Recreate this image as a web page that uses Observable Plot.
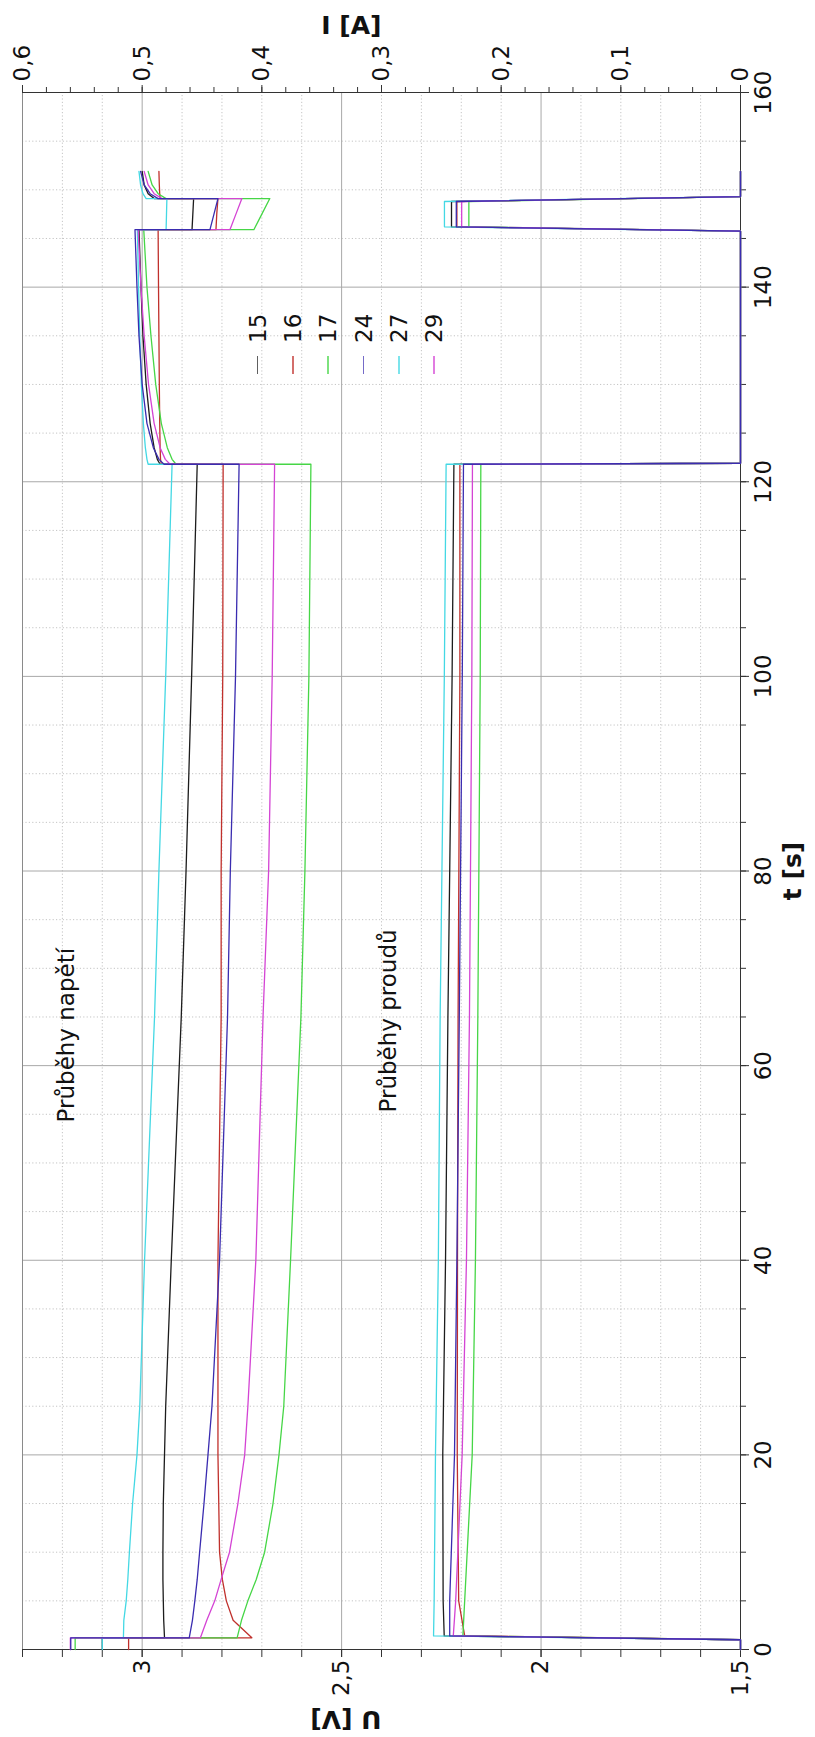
<!DOCTYPE html>
<html>
<head>
<meta charset="utf-8">
<script src="https://cdn.jsdelivr.net/npm/d3@7"></script>
<script src="https://cdn.jsdelivr.net/npm/@observablehq/plot@0.6"></script>
<style>
html, body { margin: 0; padding: 0; background: #fff; width: 815px; height: 1737px; overflow: hidden; }
#wrap { position: absolute; left: 0; top: 0; width: 1737px; height: 815px; transform-origin: 0 0; transform: translate(0px, 1737px) rotate(-90deg); font-family: "DejaVu Sans", sans-serif; }
#legend { position: absolute; left: 1363px; top: 240px; }
.lg-row { display: flex; align-items: center; height: 35.3px; font-size: 23px; color: #111; }
.lg-line { display: inline-block; width: 18px; height: 1.5px; margin-right: 13px; opacity: 0.7; }
</style>
</head>
<body>
<div id="wrap"><div id="legend"></div></div>
<script>
// ---------- series ----------
const seriesNames = ["15", "16", "17", "24", "27", "29"];
const seriesColors = ["#1c1c1c", "#c0302c", "#46d646", "#3a2cb0", "#44d8e4", "#d444d4"];
const drawOrder = ["15", "16", "17", "27", "29", "24"];

// ---------- voltage U [V] ----------
const tOcv = [0, 1.2];
const uOcv = [3.100, 3.034, 3.168, 3.179, 3.100, 3.180];

const tLoad = [1.2, 3, 5, 7.2, 10, 15, 20, 25, 40, 65, 80, 100, 121.8];
const uLoad15 = [2.944, 2.946, 2.947, 2.948, 2.948, 2.947, 2.944, 2.941, 2.927, 2.902, 2.890, 2.876, 2.862];
const uLoad16 = [2.725, 2.772, 2.789, 2.799, 2.806, 2.808, 2.810, 2.810, 2.810, 2.802, 2.802, 2.798, 2.797];
const uLoad17 = [2.762, 2.751, 2.735, 2.714, 2.693, 2.672, 2.657, 2.645, 2.628, 2.602, 2.592, 2.582, 2.577];
const uLoad24 = [2.882, 2.874, 2.868, 2.862, 2.856, 2.845, 2.835, 2.825, 2.806, 2.786, 2.779, 2.766, 2.757];
const uLoad27 = [3.047, 3.046, 3.040, 3.036, 3.032, 3.024, 3.013, 3.006, 2.994, 2.969, 2.958, 2.941, 2.925];
const uLoad29 = [2.854, 2.838, 2.818, 2.802, 2.781, 2.760, 2.743, 2.735, 2.715, 2.697, 2.683, 2.674, 2.668];

const tRelax = [121.8, 122.3, 123.5, 126, 130, 135, 140, 145.9];
const uRelax15 = [2.955, 2.962, 2.970, 2.980, 2.990, 2.998, 3.003, 3.008];
const uRelax16 = [2.952, 2.954, 2.955, 2.956, 2.957, 2.958, 2.959, 2.960];
const uRelax17 = [2.915, 2.925, 2.937, 2.952, 2.966, 2.978, 2.988, 2.996];
const uRelax24 = [2.945, 2.958, 2.972, 2.988, 3.000, 3.008, 3.013, 3.018];
const uRelax27 = [2.985, 2.988, 2.992, 2.997, 3.002, 3.006, 3.009, 3.012];
const uRelax29 = [2.930, 2.942, 2.955, 2.970, 2.984, 2.995, 3.003, 3.010];

const tPulse = [145.9, 147.5, 149.1];
const uPulse15 = [2.875, 2.873, 2.871];
const uPulse16 = [2.815, 2.813, 2.810];
const uPulse17 = [2.720, 2.700, 2.680];
const uPulse24 = [2.830, 2.820, 2.810];
const uPulse27 = [2.940, 2.939, 2.938];
const uPulse29 = [2.780, 2.765, 2.750];

const tRec = [149.1, 149.6, 150.5, 151.9];
const uRec15 = [2.970, 2.985, 2.995, 3.000];
const uRec16 = [2.955, 2.956, 2.957, 2.958];
const uRec17 = [2.940, 2.960, 2.975, 2.985];
const uRec24 = [2.960, 2.980, 2.995, 3.004];
const uRec27 = [2.990, 2.998, 3.004, 3.008];
const uRec29 = [2.950, 2.970, 2.985, 2.995];

// ---------- current I [A] ----------
const tIZero1 = [0, 1.0];
const tILoad = [1.4, 5, 20, 40, 65, 100, 121.8];
const iLoad15 = [0.2476, 0.2485, 0.2488, 0.2465, 0.2445, 0.2410, 0.2395];
const iLoad16 = [0.2305, 0.2355, 0.2367, 0.2365, 0.2360, 0.2345, 0.2345];
const iLoad17 = [0.2320, 0.2305, 0.2242, 0.2215, 0.2195, 0.2175, 0.2170];
const iLoad24 = [0.2430, 0.2430, 0.2390, 0.2370, 0.2350, 0.2325, 0.2315];
const iLoad27 = [0.2565, 0.2560, 0.2549, 0.2525, 0.2510, 0.2475, 0.2460];
const iLoad29 = [0.2400, 0.2380, 0.2326, 0.2290, 0.2265, 0.2245, 0.2240];
const tIZero2 = [121.9, 145.75];
const tIPulse = [146.2, 148.8];
const iPulse = [0.2415, 0.2370, 0.2270, 0.2375, 0.2474, 0.2330];
const tIZero3 = [149.3, 151.9];

// ---------- axes ----------
const tMajorTicks = [0, 20, 40, 60, 80, 100, 120, 140, 160];
const tMinorTicks = d3.range(0, 161, 5);
const uLabelTicks = [1.5, 2, 2.5, 3];
const uMinorTicks = d3.range(15, 34).map(v => v / 10);
const iLabelTicks = [0, 0.1, 0.2, 0.3, 0.4, 0.5, 0.6];
const iMinorTicks = d3.range(0, 31).map(v => v / 50);
const uDomain = [1.5, 3.3];
const iDomain = [0, 0.6];

// map the current onto the voltage scale (dual axis)
const iToU = i => uDomain[0] + (i - iDomain[0]) * (uDomain[1] - uDomain[0]) / (iDomain[1] - iDomain[0]);
const uToI = u => iDomain[0] + (u - uDomain[0]) * (iDomain[1] - iDomain[0]) / (uDomain[1] - uDomain[0]);
const comma = v => String(+v.toFixed(2)).replace(".", ",");

const uLoad = [uLoad15, uLoad16, uLoad17, uLoad24, uLoad27, uLoad29];
const uRelax = [uRelax15, uRelax16, uRelax17, uRelax24, uRelax27, uRelax29];
const uPulse = [uPulse15, uPulse16, uPulse17, uPulse24, uPulse27, uPulse29];
const uRec = [uRec15, uRec16, uRec17, uRec24, uRec27, uRec29];
const iLoad = [iLoad15, iLoad16, iLoad17, iLoad24, iLoad27, iLoad29];

const voltageRows = [];
const currentRows = [];
for (const s of drawOrder) {
  const k = seriesNames.indexOf(s);
  tOcv.forEach(t => voltageRows.push({s, t, u: uOcv[k]}));
  tLoad.forEach((t, j) => voltageRows.push({s, t, u: uLoad[k][j]}));
  tRelax.forEach((t, j) => voltageRows.push({s, t, u: uRelax[k][j]}));
  tPulse.forEach((t, j) => voltageRows.push({s, t, u: uPulse[k][j]}));
  tRec.forEach((t, j) => voltageRows.push({s, t, u: uRec[k][j]}));

  tIZero1.forEach(t => currentRows.push({s, t, i: 0}));
  tILoad.forEach((t, j) => currentRows.push({s, t, i: iLoad[k][j]}));
  tIZero2.forEach(t => currentRows.push({s, t, i: 0}));
  tIPulse.forEach(t => currentRows.push({s, t, i: iPulse[k]}));
  tIZero3.forEach(t => currentRows.push({s, t, i: 0}));
}

const gridMinorT = tMinorTicks.filter(t => !tMajorTicks.includes(t));
const gridMajorT = tMajorTicks.filter(t => t > 0 && t < 160);
const gridMinorU = uMinorTicks.filter(u => Math.abs(u * 2 - Math.round(u * 2)) > 1e-6);
const gridMajorU = [2, 2.5, 3];

const chart = Plot.plot({
  width: 1737,
  height: 815,
  marginLeft: 87,
  marginRight: 93,
  marginTop: 22,
  marginBottom: 75,
  style: {fontFamily: "DejaVu Sans, sans-serif", fontSize: "23px", background: "#fff", color: "#111"},
  x: {domain: [0, 160], label: null},
  y: {domain: uDomain, label: null},
  color: {domain: seriesNames, range: seriesColors},
  marks: [
    Plot.gridX(gridMinorT, {stroke: "#c4c4c4", strokeOpacity: 1, strokeDasharray: "1.2,2.2"}),
    Plot.gridY(gridMinorU, {stroke: "#c4c4c4", strokeOpacity: 1, strokeDasharray: "1.2,2.2"}),
    Plot.gridX(gridMajorT, {stroke: "#a8a8a8", strokeOpacity: 1}),
    Plot.gridY(gridMajorU, {stroke: "#a8a8a8", strokeOpacity: 1}),
    Plot.frame({anchor: "top", stroke: "#8a8a8a"}),
    // t axis (bottom)
    Plot.axisX(tMinorTicks, {anchor: "bottom", tickSize: 6, tickFormat: () => "", label: null, stroke: "#333"}),
    Plot.axisX(tMajorTicks, {anchor: "bottom", tickSize: 9, tickPadding: 5, tickFormat: d => String(d), label: null, stroke: "#333"}),
    // U axis (left)
    Plot.axisY(uMinorTicks, {anchor: "left", tickSize: 7, tickFormat: () => "", label: null, stroke: "#333"}),
    Plot.axisY(uLabelTicks, {anchor: "left", tickSize: 7, tickPadding: 3, tickFormat: comma, label: null, stroke: "#333"}),
    // I axis (right)
    Plot.axisY(iMinorTicks.map(iToU), {anchor: "right", tickSize: 5, tickFormat: () => "", label: null, stroke: "#333"}),
    Plot.axisY(iLabelTicks.map(iToU), {anchor: "right", tickSize: 7, tickPadding: 4, tickFormat: u => comma(uToI(u)), label: null, stroke: "#333"}),
    Plot.frame({anchor: "left", stroke: "#333"}),
    Plot.frame({anchor: "right", stroke: "#333"}),
    Plot.frame({anchor: "bottom", stroke: "#333"}),
    // data
    Plot.line(voltageRows, {x: "t", y: "u", z: "s", stroke: "s", strokeWidth: 1.3}),
    Plot.line(currentRows, {x: "t", y: d => iToU(d.i), z: "s", stroke: "s", strokeWidth: 1.3}),
    // annotations
    Plot.text(["Průběhy napětí"], {x: 72.1, y: 3.19, text: d => d, textAnchor: "end", fontSize: 23, fill: "#111"}),
    Plot.text(["Průběhy proudů"], {x: 74, y: 2.382, text: d => d, textAnchor: "end", fontSize: 23, fill: "#111"}),
    // axis titles
    Plot.text(["t [s]"], {frameAnchor: "bottom", text: d => d, dy: 60, fontWeight: "bold", fontSize: 25, fill: "#111"}),
    Plot.text(["U [V]"], {frameAnchor: "left", text: d => d, dx: -69, rotate: -90, fontWeight: "bold", fontSize: 25, fill: "#111"}),
    Plot.text(["I [A]"], {frameAnchor: "right", text: d => d, dx: 67, rotate: 90, fontWeight: "bold", fontSize: 25, fill: "#111"})
  ]
});

const wrap = document.getElementById("wrap");
wrap.insertBefore(chart, wrap.firstChild);
chart.style.position = "absolute";
chart.style.left = "0px";
chart.style.top = "0px";

// legend inside the plot
const legend = document.getElementById("legend");
seriesNames.forEach((s, k) => {
  const row = document.createElement("div");
  row.className = "lg-row";
  const ln = document.createElement("span");
  ln.className = "lg-line";
  ln.style.background = seriesColors[k];
  const tx = document.createElement("span");
  tx.textContent = s;
  row.appendChild(ln);
  row.appendChild(tx);
  legend.appendChild(row);
});
</script>
</body>
</html>
